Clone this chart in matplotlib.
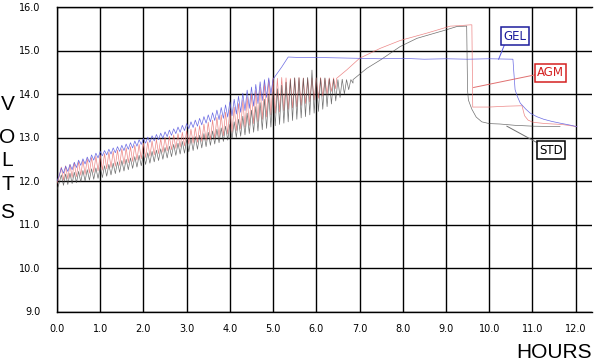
import numpy as np
import matplotlib

matplotlib.use("Agg")
import matplotlib.pyplot as plt

# ── Data (hours, volts) ──────────────────────────────────────────────────────

x_ticks = [0.0, 1.0, 2.0, 3.0, 4.0, 5.0, 6.0, 7.0, 8.0, 9.0, 10.0, 11.0, 12.0]
y_ticks = [9.0, 10.0, 11.0, 12.0, 13.0, 14.0, 15.0, 16.0]

# pulsed bulk charge: one peak + one trough per tooth, teeth every 0.1 h from 0.1 h
saw_start, saw_step = 0.1, 0.1

gel_peak = [12.30, 12.34, 12.38, 12.43, 12.48, 12.51, 12.55, 12.60, 12.64, 12.68,
            12.70, 12.73, 12.76, 12.79, 12.82, 12.85, 12.88, 12.92, 12.95, 12.98,
            13.01, 13.04, 13.07, 13.10, 13.13, 13.17, 13.20, 13.24, 13.28, 13.32,
            13.36, 13.40, 13.44, 13.48, 13.52, 13.57, 13.63, 13.69, 13.75, 13.82,
            13.88, 13.95, 14.02, 14.09, 14.16, 14.22, 14.28, 14.33, 14.37]
gel_trough = [12.18, 12.22, 12.26, 12.31, 12.36, 12.39, 12.43, 12.48, 12.53, 12.58,
              12.60, 12.62, 12.65, 12.68, 12.70, 12.73, 12.76, 12.80, 12.84, 12.87,
              12.89, 12.92, 12.95, 12.98, 13.02, 13.05, 13.09, 13.12, 13.16, 13.20,
              13.23, 13.26, 13.29, 13.33, 13.36, 13.39, 13.41, 13.44, 13.47, 13.50,
              13.54, 13.58, 13.62, 13.67, 13.72, 13.78, 13.85, 13.92, 14.00]

agm_peak = [12.32, 12.35, 12.38, 12.42, 12.45, 12.48, 12.51, 12.54, 12.57, 12.60,
            12.63, 12.66, 12.68, 12.71, 12.74, 12.76, 12.79, 12.82, 12.84, 12.87,
            12.90, 12.92, 12.95, 12.97, 13.00, 13.03, 13.06, 13.09, 13.12, 13.15,
            13.19, 13.23, 13.27, 13.31, 13.35, 13.40, 13.46, 13.52, 13.58, 13.63,
            13.70, 13.78, 13.86, 13.93, 14.00, 14.08, 14.16, 14.25, 14.33, 14.37,
            14.36, 14.38, 14.37, 14.36, 14.37, 14.38, 14.37, 14.36, 14.37, 14.37,
            14.38, 14.36, 14.37, 14.37]
agm_trough = [12.02, 12.05, 12.08, 12.10, 12.13, 12.15, 12.18, 12.20, 12.23, 12.25,
              12.28, 12.31, 12.34, 12.36, 12.39, 12.42, 12.45, 12.48, 12.51, 12.54,
              12.57, 12.60, 12.63, 12.66, 12.69, 12.72, 12.75, 12.78, 12.81, 12.85,
              12.87, 12.89, 12.91, 12.93, 12.95, 12.98, 13.01, 13.04, 13.08, 13.12,
              13.16, 13.20, 13.24, 13.28, 13.32, 13.37, 13.42, 13.47, 13.52, 13.56,
              13.59, 13.62, 13.65, 13.68, 13.71, 13.74, 13.78, 13.82, 13.86, 13.90,
              13.95, 14.00, 14.06, 14.12]

std_peak = [12.14, 12.16, 12.18, 12.20, 12.22, 12.24, 12.26, 12.28, 12.30, 12.32,
            12.35, 12.38, 12.41, 12.44, 12.47, 12.50, 12.53, 12.56, 12.59, 12.62,
            12.65, 12.68, 12.71, 12.74, 12.77, 12.80, 12.84, 12.87, 12.91, 12.95,
            12.98, 13.02, 13.05, 13.09, 13.12, 13.15, 13.19, 13.22, 13.26, 13.30,
            13.36, 13.42, 13.49, 13.56, 13.63, 13.71, 13.80, 13.88, 13.97, 14.05,
            14.12, 14.20, 14.27, 14.33, 14.37, 14.37, 14.36, 14.38, 14.55, 14.37,
            14.36, 14.37, 14.35, 14.34, 14.33, 14.34, 14.33, 14.33]
std_trough = [11.90, 11.92, 11.94, 11.96, 11.98, 12.00, 12.02, 12.04, 12.06, 12.08,
              12.11, 12.14, 12.17, 12.20, 12.23, 12.26, 12.29, 12.32, 12.35, 12.38,
              12.41, 12.44, 12.47, 12.50, 12.53, 12.56, 12.59, 12.62, 12.64, 12.67,
              12.70, 12.73, 12.76, 12.79, 12.82, 12.85, 12.88, 12.91, 12.94, 12.97,
              13.00, 13.03, 13.06, 13.09, 13.12, 13.15, 13.18, 13.21, 13.24, 13.27,
              13.30, 13.33, 13.36, 13.39, 13.42, 13.45, 13.48, 13.52, 13.56, 13.60,
              13.65, 13.71, 13.77, 13.84, 13.92, 14.00, 14.10, 14.25]

# lead-in before the pulses
gel_pre_t, gel_pre_v = [0.0, 0.05], [12.00, 12.12]
agm_pre_t, agm_pre_v = [0.0, 0.05], [11.95, 12.10]
std_pre_t, std_pre_v = [0.0, 0.05], [11.80, 11.95]

# absorption / float part after the pulses
gel_post_t = [5.00, 5.20, 5.35, 5.60, 6.00, 6.50, 7.00, 7.50, 8.00, 8.50, 9.00, 9.50,
              10.00, 10.55, 10.60, 10.65, 10.72, 10.85, 10.95, 11.10, 11.26, 11.45,
              11.64, 11.85, 12.03]
gel_post_v = [14.34, 14.62, 14.85, 14.84, 14.84, 14.83, 14.82, 14.81, 14.82, 14.80, 14.81, 14.80,
              14.81, 14.80, 14.10, 13.95, 13.79, 13.65, 13.56, 13.48, 13.42, 13.37,
              13.33, 13.29, 13.25]

agm_post_t = [6.47, 6.70, 7.00, 7.48, 7.94, 8.56, 9.10, 9.30, 9.56, 9.60, 9.62, 10.00,
              10.40, 10.76, 10.82, 10.90, 11.02, 11.30, 11.68, 12.03]
agm_post_v = [14.36, 14.55, 14.82, 15.05, 15.23, 15.40, 15.56, 15.57, 15.59, 15.59, 13.70, 13.70,
              13.72, 13.73, 13.50, 13.40, 13.35, 13.32, 13.30, 13.25]

std_post_t = [6.85, 7.17, 7.48, 7.94, 8.33, 8.99, 9.25, 9.48, 9.50, 9.52, 9.60, 9.70,
              9.83, 10.00, 10.25, 10.60, 11.02, 11.64]
std_post_v = [14.33, 14.59, 14.78, 15.09, 15.28, 15.47, 15.55, 15.56, 14.09, 13.86, 13.65, 13.47,
              13.36, 13.32, 13.31, 13.28, 13.26, 13.25]

# callout boxes: label, box centre, line anchor on the curve, line end at the box
callouts = [
    ("GEL", (10.60, 15.33), (10.22, 14.80), (10.37, 15.17), "#1c1c9c", "#5a5ae0"),
    ("AGM", (11.42, 14.49), (9.64, 14.15), (11.06, 14.44), "#d42020", "#e07070"),
    ("STD", (11.43, 12.71), (10.41, 13.26), (11.13, 12.87), "#000000", "#707070"),
]


def build_series(pre_t, pre_v, peak, trough, post_t, post_v):
    """Stitch lead-in, zig-zag pulses and the tail into one line."""
    n = len(peak)
    t_peak = saw_start + saw_step * np.arange(n)
    saw_t = np.column_stack([t_peak, t_peak + saw_step / 2]).ravel()
    saw_v = np.column_stack([peak, trough]).ravel()
    t = np.concatenate([pre_t, saw_t, post_t])
    v = np.concatenate([pre_v, saw_v, post_v])
    return t, v


plt.rcParams.update({"font.family": ["DejaVu Sans"]})

fig = plt.figure(figsize=(5.98, 3.64), dpi=100)
ax = fig.add_axes([57 / 598, 1 - 311.5 / 364, (592 - 57) / 598, (311.5 - 7) / 364])

std_t, std_v = build_series(std_pre_t, std_pre_v, std_peak, std_trough, std_post_t, std_post_v)
agm_t, agm_v = build_series(agm_pre_t, agm_pre_v, agm_peak, agm_trough, agm_post_t, agm_post_v)
gel_t, gel_v = build_series(gel_pre_t, gel_pre_v, gel_peak, gel_trough, gel_post_t, gel_post_v)

ax.plot(agm_t, agm_v, color="#e86a6a", linewidth=0.5, alpha=0.8, zorder=3)
ax.plot(std_t, std_v, color="#404040", linewidth=0.5, alpha=0.75, zorder=4)
ax.plot(gel_t, gel_v, color="#5a5ae0", linewidth=0.5, alpha=0.9, zorder=5)

for label, box_xy, anchor, box_end, txt_col, line_col in callouts:
    ax.plot([anchor[0], box_end[0]], [anchor[1], box_end[1]], color=line_col, linewidth=0.7, zorder=6)
    ax.text(box_xy[0], box_xy[1], label, ha="center", va="center", fontsize=8.5, color=txt_col,
            zorder=7, bbox=dict(boxstyle="square,pad=0.2", facecolor="white", edgecolor=txt_col, linewidth=1.1))

# grid as plain black lines
ax.set_xlim(0, 12.38)
ax.set_ylim(9, 16)
ax.set_xticks(x_ticks)
ax.set_yticks(y_ticks)
ax.set_xticklabels([f"{v:.1f}" for v in x_ticks], fontsize=7)
ax.set_yticklabels([f"{v:.1f}" for v in y_ticks], fontsize=7)
ax.tick_params(length=0, pad=9)
ax.tick_params(axis="y", pad=12)
ax.grid(True, color="black", linewidth=1.0)
ax.set_axisbelow(True)
for side in ["left", "bottom", "top"]:
    ax.spines[side].set_linewidth(1.0)
ax.spines["right"].set_visible(False)

# axis titles drawn as in the original: stacked letters and a corner label
for ch, ypix in zip("VOLTS", [105, 137.5, 160.5, 185, 212.5]):
    fig.text(7.5 / 598, 1 - ypix / 364, ch, ha="center", va="center", fontsize=15,
             family="Liberation Sans")
fig.text(592 / 598, 1 - 352 / 364, "HOURS", ha="right", va="center", fontsize=15,
         family="Liberation Sans")

fig.savefig("out.png", dpi=100)
